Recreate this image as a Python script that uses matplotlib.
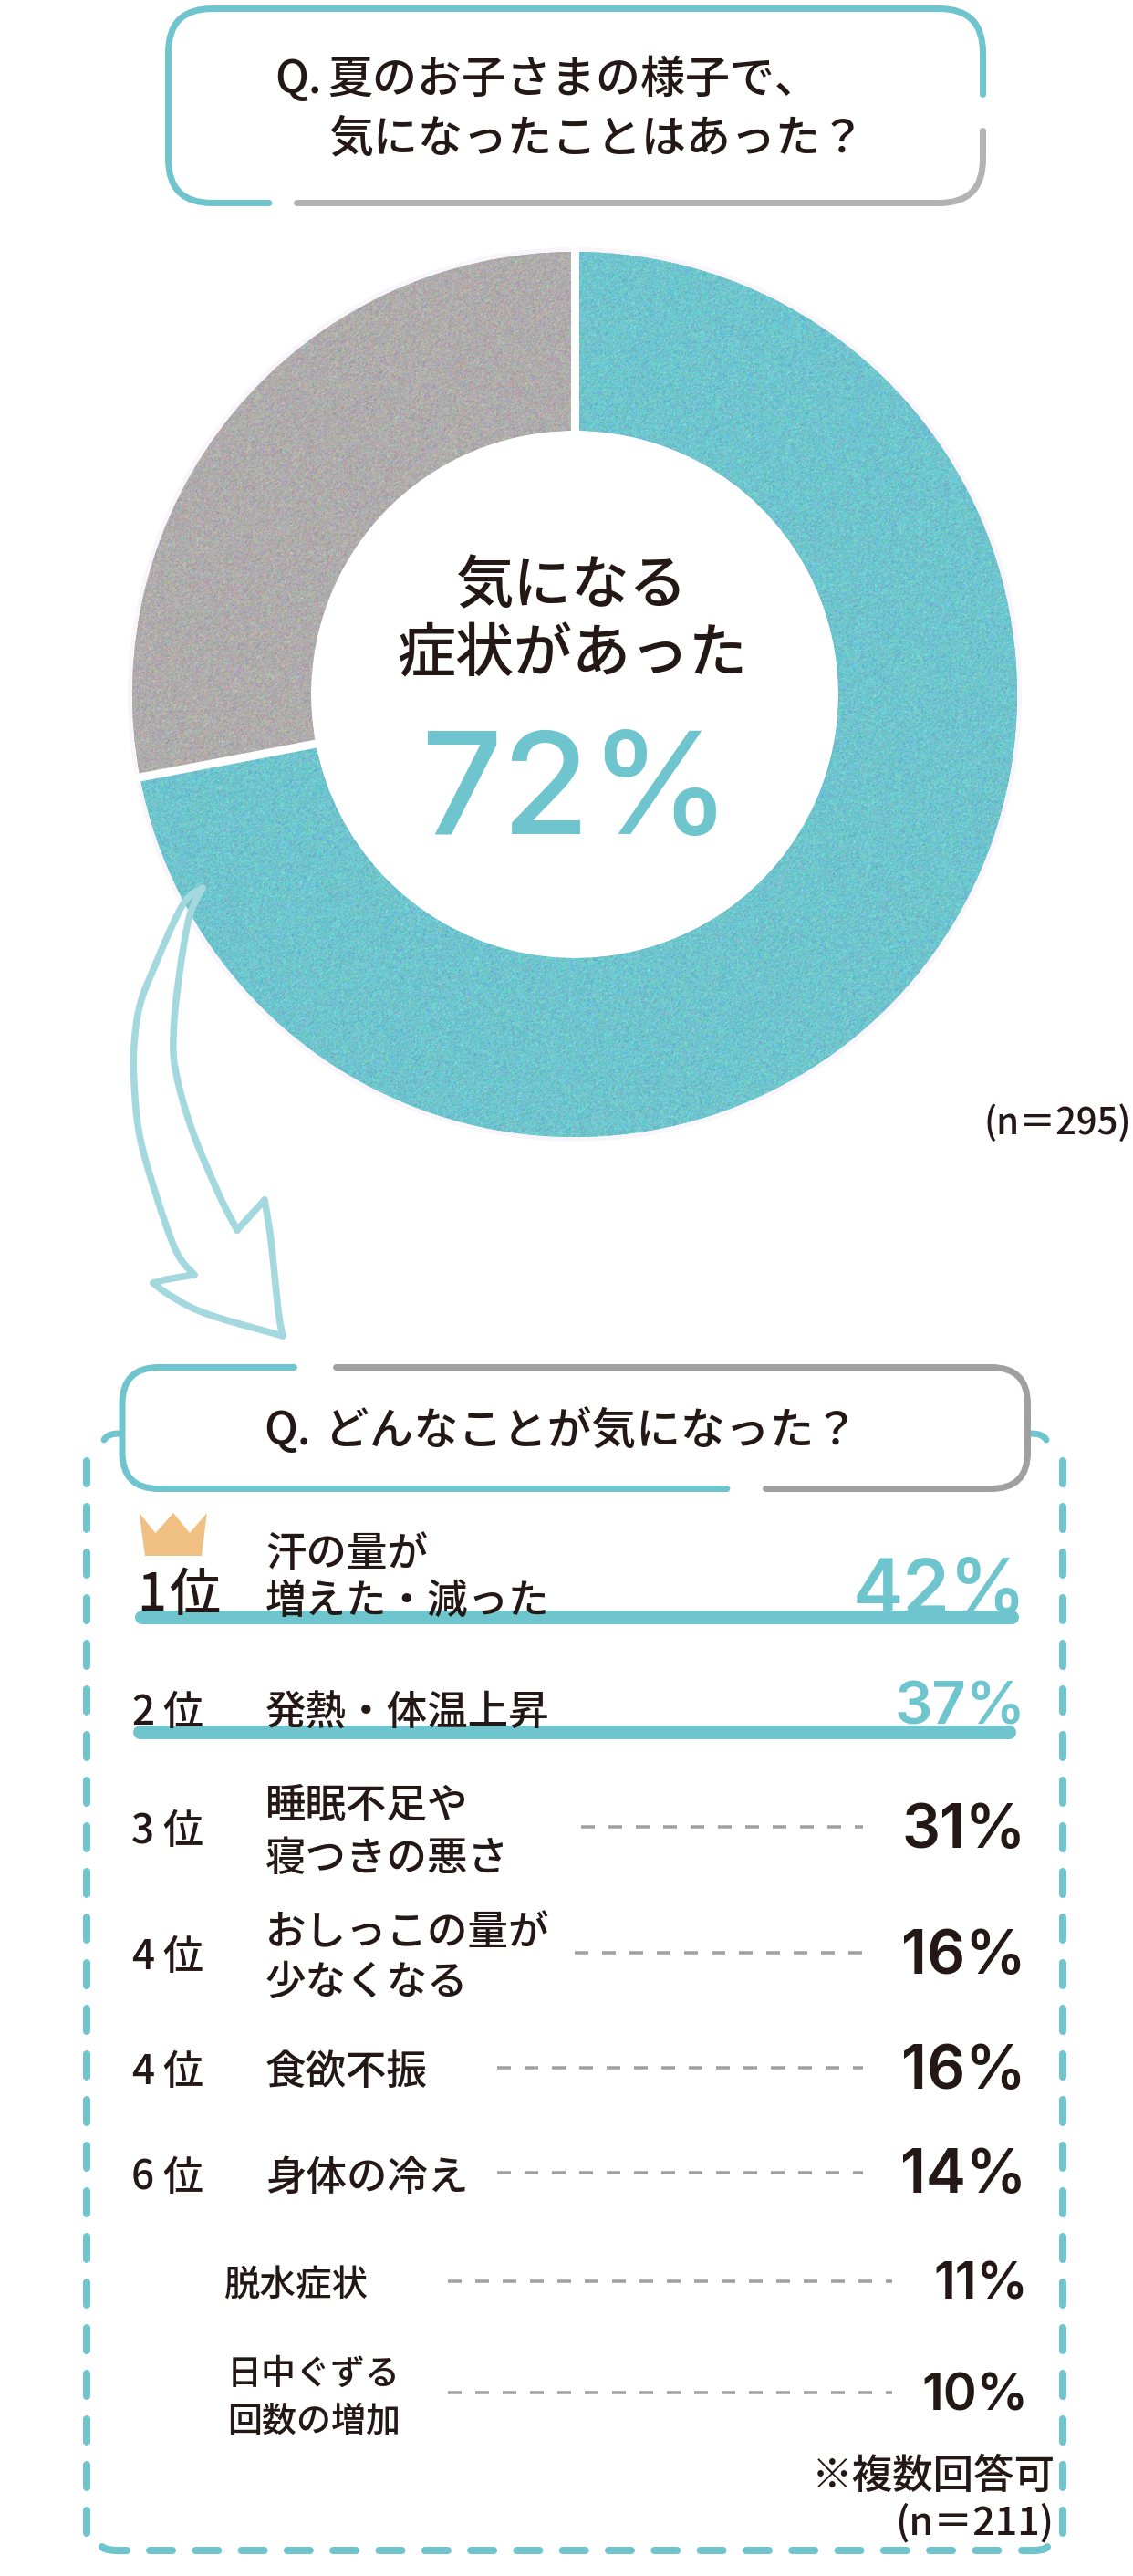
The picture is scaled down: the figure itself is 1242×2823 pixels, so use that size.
import numpy as np
import matplotlib
matplotlib.use('Agg')
import matplotlib.pyplot as plt
from matplotlib.path import Path
from matplotlib.patches import PathPatch, Polygon, Rectangle, Circle

plt.rcParams['font.family'] = ['Noto Sans CJK JP', 'DejaVu Sans']
plt.rcParams['font.weight'] = 'medium'
plt.rcParams['lines.scale_dashes'] = False

# Data
pie_labels = ['気になる症状があった', 'なかった']
pie_values = [72, 28]
pie_n = '(n＝295)'
first_n = '(n＝211)'

ranks = ['1', '2', '3', '4', '4', '6', '', '']
symptoms = ['汗の量が\n増えた・減った', '発熱・体温上昇', '睡眠不足や\n寝つきの悪さ',
            'おしっこの量が\n少なくなる', '食欲不振', '身体の冷え', '脱水症状',
            '日中ぐずる\n回数の増加']
percents = [42, 37, 31, 16, 16, 14, 11, 10]

TEAL = '#6FC5CE'
ARROW = '#A2D8DE'
GREY1 = '#B3B3B3'
GREY2 = '#A0A0A0'
DONUT_GREY = '#AFACAC'
INK = '#231815'
CROWN = '#F0BF82'
NUM_FONT = 'Inter'

W, H = 1242, 2823
PT = 0.72  # pixels to points at dpi 100
DY = 6     # Noto sits a little high with va='center'

# row layout, pixels
row_y = [1749, 1872, 2002, 2140, 2266, 2381, 2500, 2622]
line_gap = [52, 0, 58, 55, 0, 0, 0, 53]
label_x = [291, 291, 291, 291, 291, 291, 246, 249]
label_px = [44.5, 44.5, 44.5, 44.5, 44.5, 44.5, 39.5, 38]
pct_px = [83, 65, 66, 66, 66, 66, 56, 56]
pct_right = [1125, 1125, 1125, 1125, 1125, 1125, 1127, 1127]
dash_x = [None, None, (637, 946), (630, 946), (545, 946), (545, 946), (491, 978), (491, 978)]

fig = plt.figure(figsize=(W / 100, H / 100), dpi=100)
ax = fig.add_axes([0, 0, 1, 1])


def corner_box(points):
    # points: straight runs, the corners between them get a quadratic curve
    verts, codes = [], []
    for i, p in enumerate(points):
        verts.append(p[:2])
        if i == 0:
            codes.append(Path.MOVETO)
        elif len(p) == 3:
            codes.append(Path.CURVE3)
        elif len(points[i - 1]) == 3:
            codes.append(Path.CURVE3)
        else:
            codes.append(Path.LINETO)
    return Path(verts, codes)


def stroke(points, color, lw=7, z=5):
    ax.add_patch(PathPatch(corner_box(points), fc='none', ec=color, lw=lw * PT,
                           capstyle='round', joinstyle='round', zorder=z))


def smooth(points, steps=12):
    # Catmull-Rom through the hand-read points of the arrow
    p = np.array(points, dtype=float)
    p = np.vstack([p[0], p, p[-1]])
    out = []
    for i in range(1, len(p) - 2):
        for t in np.linspace(0, 1, steps, endpoint=False):
            out.append(0.5 * (2 * p[i] + (p[i + 1] - p[i - 1]) * t
                              + (2 * p[i - 1] - 5 * p[i] + 4 * p[i + 1] - p[i + 2]) * t ** 2
                              + (3 * p[i] - p[i - 1] - 3 * p[i + 1] + p[i + 2]) * t ** 3))
    out.append(p[-2])
    return np.array(out)


# Donut
center = (630, 761)
outer = 485
ax.add_patch(Circle(center, outer + 5, fc='#F8F6FA', ec='none', zorder=0.5))
wedges, _ = ax.pie(pie_values, colors=[TEAL, DONUT_GREY], center=center, radius=outer,
                   startangle=-90, counterclock=True, wedgeprops=dict(width=outer - 289, lw=0),
                   frame=False)
ax.add_patch(Circle(center, 289, fc='white', ec='none', zorder=1.5))

rng = np.random.default_rng(3)
for wedge, col in zip(wedges, [TEAL, DONUT_GREY]):
    base = np.array(matplotlib.colors.to_rgb(col))
    grain = rng.normal(0, 0.04, (outer * 2, outer * 2, 3))
    grain = (grain + np.roll(grain, 1, 0) + np.roll(grain, 1, 1)) / 1.7
    img = ax.imshow(np.clip(base + grain, 0, 1), extent=(center[0] - outer, center[0] + outer,
                                                       center[1] + outer, center[1] - outer),
                    aspect='auto', interpolation='nearest', zorder=2)
    img.set_clip_path(wedge)

for wedge in wedges:
    a = np.deg2rad(wedge.theta1)
    ax.plot([center[0] + 280 * np.cos(a), center[0] + 495 * np.cos(a)],
            [center[1] + 280 * np.sin(a), center[1] + 495 * np.sin(a)],
            color='white', lw=9 * PT, zorder=3)

ax.text(626, 637 + DY, '気になる', fontsize=63.5 * PT, color=INK, ha='center', va='center')
ax.text(627, 712 + DY, '症状があった', fontsize=64 * PT, color=INK, ha='center', va='center')
ax.text(631, 874, f'{pie_values[0]}%', family=NUM_FONT, fontsize=156 * PT, weight=500,
        color=TEAL, ha='center', va='center')
ax.text(1240, 1225 + DY, pie_n, fontsize=40 * PT, color=INK, ha='right', va='center')

# Arrow from the donut to the second question
arrow_left = [(222, 973), (200, 992), (167, 1065), (153, 1103), (147, 1145), (147, 1187),
              (153, 1244), (170, 1306), (193, 1371), (213, 1397)]
arrow_head_a = [(213, 1397), (183, 1402), (168, 1406)]
arrow_bottom = [(168, 1406), (187, 1420), (227, 1440), (310, 1464)]
arrow_tip = [(310, 1464), (305, 1436), (297, 1359), (290, 1315)]
arrow_head_b = [(290, 1315), (260, 1348)]
arrow_right = [(260, 1348), (240, 1309), (210, 1237), (193, 1176), (190, 1137), (195, 1080),
               (207, 1007), (222, 973)]
for part in [arrow_left, arrow_head_a, arrow_bottom, arrow_tip, arrow_head_b, arrow_right]:
    xy = smooth(part)
    ax.plot(xy[:, 0], xy[:, 1], color=ARROW, lw=7.5 * PT, solid_capstyle='round',
            solid_joinstyle='round', zorder=6)

# First question box
r = 48
x0, x1, y0, y1 = 184.5, 1077.5, 9.5, 222.5
stroke([(295, y1), (x0 + r, y1), (x0, y1, 1), (x0, y1 - r), (x0, y0 + r), (x0, y0, 1), (x0 + r, y0),
        (x1 - r, y0), (x1, y0, 1), (x1, y0 + r), (x1, 103.5)], TEAL)
stroke([(x1, 143.5), (x1, y1 - r), (x1, y1, 1), (x1 - r, y1), (325.5, y1)], GREY1)
ax.text(301, 82 + DY, 'Q.', fontsize=49 * PT, color=INK, ha='left', va='center')
ax.text(359, 82 + DY, '夏のお子さまの様子で、', fontsize=49 * PT, color=INK, ha='left', va='center')
ax.text(360, 146 + DY, '気になったことはあった？', fontsize=49 * PT, color=INK, ha='left', va='center')

# Dashed frame round the ranking
dash = (0, (25 * PT, 25 * PT))
for x in (95, 1164.5):
    ax.plot([x, x], [2776, 1590], color=TEAL, lw=8 * PT, ls=dash, dash_capstyle='round', zorder=1)
ax.plot([164, 1095], [2795, 2795], color=TEAL, lw=8 * PT, ls=(0, (25 * PT, 25.3 * PT)),
        dash_capstyle='round', zorder=1)
stroke([(112, 2791), (116, 2796, 1), (139, 2795)], TEAL, lw=8, z=1)
stroke([(1120, 2795), (1146, 2796, 1), (1148, 2791)], TEAL, lw=8, z=1)
stroke([(114, 1578), (118, 1571, 1), (130, 1571)], TEAL, z=1)
stroke([(1131, 1571), (1143, 1571, 1), (1147, 1578)], TEAL, z=1)

# Second question box
x0, x1, y0, y1 = 134, 1126.5, 1498.5, 1631.5
r = 40
ax.add_patch(Rectangle((x0, y0), x1 - x0, y1 - y0, fc='white', ec='none', zorder=2))
stroke([(322.5, y0), (x0 + r, y0), (x0, y0, 1), (x0, y0 + r), (x0, y1 - r), (x0, y1, 1), (x0 + r, y1),
        (797, y1)], TEAL)
stroke([(368.5, y0), (x1 - r, y0), (x1, y0, 1), (x1, y0 + r), (x1, y1 - r), (x1, y1, 1), (x1 - r, y1),
        (839.5, y1)], GREY2)
ax.text(289, 1563 + DY, 'Q.', fontsize=49 * PT, color=INK, ha='left', va='center')
ax.text(356, 1563 + DY, 'どんなことが気になった？', fontsize=48.7 * PT, color=INK, ha='left', va='center')

# Crown for the first place
ax.add_patch(Polygon([(152.6, 1658), (170.4, 1680), (190, 1658), (208, 1680), (226.8, 1658),
                      (221, 1705), (159, 1705)], fc=CROWN, ec='none', zorder=4))

# Highlight bars of the two leading answers
bar_ends = [(148, 1115.6), (146, 1113)]
for (a, b), y in zip(bar_ends, [1771.5, 1897.5]):
    ax.plot([a + 7, b - 7], [y, y], color=TEAL, lw=15 * PT, solid_capstyle='round', zorder=3)

# Ranking rows
for i, (rank, label, pct) in enumerate(zip(ranks, symptoms, percents)):
    y = row_y[i]
    pct_col = TEAL if i < 2 else INK
    if i == 0:
        ax.text(150, 1743 + DY, rank, fontsize=56 * PT, color=INK, ha='left', va='center', zorder=6)
        ax.text(241, 1743 + DY, '位', fontsize=56 * PT, color=INK, ha='right', va='center', zorder=6)
    elif rank:
        ax.text(144, y + DY, rank, fontsize=44 * PT, color=INK, ha='left', va='center', zorder=6)
        ax.text(222, y + DY, '位', fontsize=44 * PT, color=INK, ha='right', va='center', zorder=6)

    lines = label.split('\n')
    if len(lines) == 2:
        gap = line_gap[i]
        # the row y is the middle of the two lines, except the first row
        ys = [y - gap, y] if i == 0 else [y - gap / 2, y + gap / 2]
    else:
        ys = [y]
    for line, ly in zip(lines, ys):
        ax.text(label_x[i], ly + DY, line, fontsize=label_px[i] * PT, color=INK, ha='left', va='center',
                zorder=6)

    py = {0: 1746, 1: 1872}.get(i, y + 5)
    ax.text(pct_right[i], py, f'{pct}%', family=NUM_FONT, fontsize=pct_px[i] * PT, weight=600,
            color=pct_col, ha='right', va='center', zorder=2)

    if dash_x[i]:
        ax.plot(dash_x[i], [y, y], color=GREY2, lw=3.5 * PT, ls=(0, (15 * PT, 15 * PT)), zorder=3)

ax.text(1157, 2708 + DY, '※複数回答可', fontsize=44.5 * PT, color=INK, ha='right', va='center', zorder=6)
ax.text(1155, 2759 + DY, first_n, fontsize=43 * PT, color=INK, ha='right', va='center', zorder=6)

ax.set_xlim(0, W)
ax.set_ylim(H, 0)
ax.set_aspect('auto')
ax.axis('off')

fig.savefig('out.png', dpi=100, facecolor='white')
